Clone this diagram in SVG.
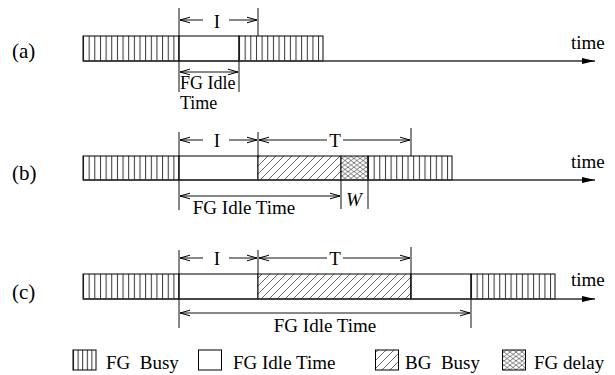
<svg xmlns="http://www.w3.org/2000/svg" xmlns:xlink="http://www.w3.org/1999/xlink" width="615" height="375" viewBox="0 0 615 375">
<style>
text{font-family:"Liberation Serif","Times New Roman",serif;fill:#000}
.t{font-size:19px}
.ts{font-size:18px}
.lab{font-size:21px}
.lg{font-size:19px;white-space:pre}
.box{stroke:#000;stroke-width:1}
.ln{stroke:#111;stroke-width:1;fill:none}
.ax{stroke:#333;stroke-width:1.6;fill:none}
.idle{fill:#fff}
</style>
<defs>
<pattern id="vs" patternUnits="userSpaceOnUse" width="5.65" height="10" x="83">
<rect width="5.65" height="10" fill="#fff"/><line x1="0.5" y1="0" x2="0.5" y2="10" stroke="#333" stroke-width="1"/>
</pattern>
<pattern id="vs2" href="#vs" xlink:href="#vs" x="239"/>
<pattern id="vs3" href="#vs" xlink:href="#vs" x="368"/>
<pattern id="vs4" href="#vs" xlink:href="#vs" x="471"/>
<pattern id="vsl" patternUnits="userSpaceOnUse" width="4.6" height="10" x="73">
<rect width="4.6" height="10" fill="#fff"/><line x1="0.5" y1="0" x2="0.5" y2="10" stroke="#333" stroke-width="1"/>
</pattern>
<pattern id="dg" patternUnits="userSpaceOnUse" width="8" height="8">
<rect width="8" height="8" fill="#fff"/><path d="M0,8 L8,0 M-2,2 L2,-2 M6,10 L10,6" stroke="#444" stroke-width="0.8"/>
</pattern>
<pattern id="xh" patternUnits="userSpaceOnUse" width="6" height="4.4">
<rect width="6" height="4.4" fill="#fff"/><path d="M0,0 L6,4.4 M0,4.4 L6,0" stroke="#444" stroke-width="0.7"/>
</pattern>
<marker id="oa" markerWidth="12" markerHeight="8" refX="10" refY="4" orient="auto-start-reverse" markerUnits="userSpaceOnUse">
<path d="M0,1.2 L10,4 L0,6.8" fill="none" stroke="#000" stroke-width="1"/>
</marker>
<marker id="fa" markerWidth="14" markerHeight="8" refX="13" refY="4" orient="auto" markerUnits="userSpaceOnUse">
<path d="M0,1 L13,4 L0,7 Z" fill="#000"/>
</marker>
</defs>
<rect width="615" height="375" fill="#fff"/>

<!-- row (a) -->
<g id="row-a">
<text class="lab" x="12" y="58">(a)</text>
<g id="a-fgbusy1"><rect class="box" x="83" y="36" width="96" height="25" fill="url(#vs)"/></g>
<g id="a-idle"><rect class="box idle" x="179" y="36" width="60" height="25"/></g>
<g id="a-fgbusy2"><rect class="box" x="239" y="36" width="84" height="25" fill="url(#vs2)"/></g>
<text class="t" x="571" y="49">time</text>
<text class="t" x="217" y="28" text-anchor="middle">I</text>
<text class="ts" x="180" y="89">FG Idle</text>
<text class="ts" x="180" y="109">Time</text>
</g>

<!-- row (b) -->
<g id="row-b">
<text class="lab" x="12" y="180">(b)</text>
<g id="b-fgbusy1"><rect class="box" x="83" y="156" width="96" height="24" fill="url(#vs)"/></g>
<g id="b-idle"><rect class="box idle" x="179" y="156" width="79" height="24"/></g>
<g id="b-bgbusy"><rect class="box" x="258" y="156" width="83" height="24" fill="url(#dg)"/></g>
<g id="b-delay"><rect class="box" x="341" y="156" width="27" height="24" fill="url(#xh)"/></g>
<g id="b-fgbusy2"><rect class="box" x="368" y="156" width="84" height="24" fill="url(#vs3)"/></g>
<text class="t" x="571" y="168">time</text>
<text class="t" x="217" y="147" text-anchor="middle">I</text>
<text class="t" x="335" y="147" text-anchor="middle">T</text>
<text class="t" x="244" y="214" text-anchor="middle">FG Idle Time</text>
<text class="t" x="354" y="206" text-anchor="middle" font-style="italic">W</text>
</g>

<!-- row (c) -->
<g id="row-c">
<text class="lab" x="12" y="299">(c)</text>
<g id="c-fgbusy1"><rect class="box" x="83" y="274" width="96" height="25" fill="url(#vs)"/></g>
<g id="c-idle1"><rect class="box idle" x="179" y="274" width="79" height="25"/></g>
<g id="c-bgbusy"><rect class="box" x="258" y="274" width="153" height="25" fill="url(#dg)"/></g>
<g id="c-idle2"><rect class="box idle" x="411" y="274" width="60" height="25"/></g>
<g id="c-fgbusy2"><rect class="box" x="471" y="274" width="84" height="25" fill="url(#vs4)"/></g>
<text class="t" x="571" y="286">time</text>
<text class="t" x="217" y="265" text-anchor="middle">I</text>
<text class="t" x="335" y="265" text-anchor="middle">T</text>
<text class="t" x="325" y="332" text-anchor="middle">FG Idle Time</text>
</g>

<!-- connectors -->
<g id="connectors">
<line class="ax" x1="83" y1="61" x2="595" y2="61" marker-end="url(#fa)"/>
<line class="ax" x1="83" y1="180" x2="595" y2="180" marker-end="url(#fa)"/>
<line class="ax" x1="83" y1="299" x2="595" y2="299" marker-end="url(#fa)"/>
<line class="ln" x1="179" y1="8" x2="179" y2="92"/>
<line class="ln" x1="258" y1="8" x2="258" y2="36"/>
<line class="ln" x1="239" y1="61" x2="239" y2="92"/>
<line class="ln" x1="203" y1="20" x2="180" y2="20" marker-end="url(#oa)"/>
<line class="ln" x1="229" y1="20" x2="257" y2="20" marker-end="url(#oa)"/>
<line class="ln" x1="180" y1="72" x2="238" y2="72" marker-start="url(#oa)" marker-end="url(#oa)"/>
<line class="ln" x1="179" y1="132" x2="179" y2="210"/>
<line class="ln" x1="258" y1="132" x2="258" y2="156"/>
<line class="ln" x1="411" y1="128" x2="411" y2="156"/>
<line class="ln" x1="341" y1="180" x2="341" y2="209"/>
<line class="ln" x1="368" y1="180" x2="368" y2="209"/>
<line class="ln" x1="203" y1="140" x2="180" y2="140" marker-end="url(#oa)"/>
<line class="ln" x1="229" y1="140" x2="257" y2="140" marker-end="url(#oa)"/>
<line class="ln" x1="327" y1="140" x2="259" y2="140" marker-end="url(#oa)"/>
<line class="ln" x1="343" y1="140" x2="410" y2="140" marker-end="url(#oa)"/>
<line class="ln" x1="180" y1="196" x2="340" y2="196" marker-start="url(#oa)" marker-end="url(#oa)"/>
<line class="ln" x1="179" y1="250" x2="179" y2="328"/>
<line class="ln" x1="258" y1="250" x2="258" y2="274"/>
<line class="ln" x1="411" y1="247" x2="411" y2="299"/>
<line class="ln" x1="471" y1="299" x2="471" y2="328"/>
<line class="ln" x1="203" y1="258" x2="180" y2="258" marker-end="url(#oa)"/>
<line class="ln" x1="229" y1="258" x2="257" y2="258" marker-end="url(#oa)"/>
<line class="ln" x1="327" y1="258" x2="259" y2="258" marker-end="url(#oa)"/>
<line class="ln" x1="343" y1="258" x2="410" y2="258" marker-end="url(#oa)"/>
<line class="ln" x1="180" y1="313" x2="470" y2="313" marker-start="url(#oa)" marker-end="url(#oa)"/>
</g>

<!-- legend -->
<g id="legend">
<g id="lg-fgbusy"><rect class="box" x="73" y="350" width="23" height="20" fill="url(#vsl)"/><text class="lg" x="106" y="369">FG  Busy</text></g>
<g id="lg-idle"><rect class="box idle" x="198.5" y="350" width="23" height="20"/><text class="lg" x="233" y="369">FG Idle Time</text></g>
<g id="lg-bgbusy"><rect class="box" x="375.5" y="350" width="23" height="20" fill="url(#dg)"/><text class="lg" x="405" y="369">BG  Busy</text></g>
<g id="lg-delay"><rect class="box" x="502.5" y="350" width="23" height="20" fill="url(#xh)"/><text class="lg" x="534" y="369">FG delay</text></g>
</g>
</svg>
